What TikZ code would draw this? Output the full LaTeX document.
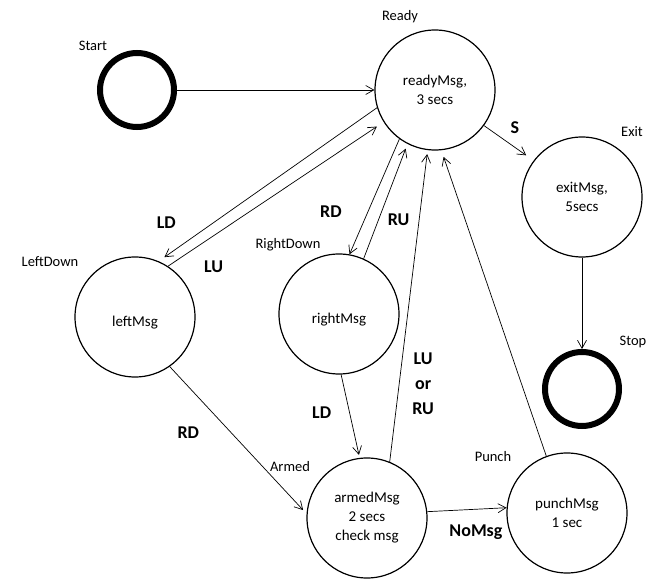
\documentclass[tikz,border=0pt]{standalone}
\usepackage{fontspec}
\setmainfont{Carlito}
\usepackage{tikz}
\usetikzlibrary{arrows.meta,positioning}

\begin{document}
\begin{tikzpicture}[
    node distance=200pt,
    >={Straight Barb[length=8pt,width=9pt]},
    font=\normalfont,
    state/.style={
		circle,
		draw=black,
		line width=1.2pt,
		align=center,
		minimum size=120pt,
		inner sep=0pt,
		font=\fontsize{15}{19}\selectfont,
		execute at begin node={\rule{0pt}{21pt}},
		fill=white
	},
	terminal/.style={
		circle,
		draw=black,
		line width=6pt,
		minimum size=74pt,
		inner sep=0pt
	},
	statename/.style={
		font=\fontsize{14.5}{16}\selectfont
	},
	msg/.style={
		font=\fontsize{18}{25}\selectfont\bfseries,
		align=center
	},
	trans/.style={
		->,
		line width=0.7pt
	}
  ]

\useasboundingbox (0pt,0pt) rectangle (657pt,-588pt);

% // The states
 \node [state] (ready) at (435pt,-90pt) {readyMsg,\\3 secs};
 \node [terminal, left of=ready, xshift=-98pt] (start) {};
 \node [state, right of=ready, xshift=-53pt, yshift=-107pt] (exit) {exitMsg,\\5secs};
 \node [terminal, below of=exit, yshift=8pt] (stop) {};
 \node [state, below of=ready, xshift=-96pt, yshift=-24pt] (rightdown) {rightMsg};
 \node [state, left of=rightdown, xshift=-4pt, yshift=-3pt] (leftdown) {leftMsg};
 \node [state, below of=rightdown, xshift=28pt, yshift=-4pt] (armed) {armedMsg\\2 secs\\check msg};
 \node [state, right of=armed, yshift=5pt] (punch) {punchMsg\\1 sec};

% // State names
 \node [statename, xshift=-44pt, yshift=44pt] (startname) at (start) {Start};
 \node [statename, xshift=-35pt, yshift=73pt] (readyname) at (ready) {Ready};
 \node [statename, xshift=50pt, yshift=65pt] (exitname) at (exit) {Exit};
 \node [statename, xshift=51pt, yshift=47pt] (stopname) at (stop) {Stop};
 \node [statename, xshift=-85pt, yshift=55pt] (leftdownname) at (leftdown) {LeftDown};
 \node [statename, xshift=-51pt, yshift=69pt] (rightdownname) at (rightdown) {RightDown};
 \node [statename, xshift=-77pt, yshift=51pt] (armedname) at (armed) {Armed};
 \node [statename, xshift=-74pt, yshift=56pt] (punchname) at (punch) {Punch};

% // Transitions
 \draw [trans] (start) -- (ready);
 \draw [trans, shorten >=9pt] (ready.324) to node [msg, xshift=6pt, yshift=15pt] (slbl) {S} (exit.143);
 \draw [trans] (exit) -- (stop);
 \draw [trans, shorten >=7pt] (ready.197) to node [msg, pos=0.75, xshift=-47pt] (ldlbl) {LD} (leftdown.67);
 \draw [trans, shorten >=8pt] (leftdown.57) to node [msg, pos=0.1, xshift=24pt, yshift=-15pt] (lulbl) {LU} (ready.212);
 \draw [trans] (ready.234) to node [msg, pos=0.63, xshift=-37pt] (rdlbl) {RD} (rightdown.80);
 \draw [trans, shorten >=5pt] (rightdown.66) to node [msg, pos=0.34, xshift=20pt] (rulbl) {RU} (ready.243);
 \draw [trans, shorten >=3pt] (rightdown.272) to node [msg, pos=0.46, xshift=-28pt] (ldlbl2) {LD} (armed.97);
 \draw [trans, shorten >=5pt] (leftdown.305) to node [msg, pos=0.45, xshift=-43pt] (rdlbl2) {RD} (armed.176);
 \draw [trans, shorten >=4pt] (armed.68) to node [msg, pos=0.25, xshift=24pt] (anylbl) {LU\\or\\RU} (ready.263);
 \draw [trans] (armed.6) to node [msg, xshift=9pt, yshift=-22pt] (nomsglbl) {NoMsg} (punch.175);
 \draw [trans, shorten >=7pt] (punch.110) -- (ready.276);

\end{tikzpicture}
\end{document}
